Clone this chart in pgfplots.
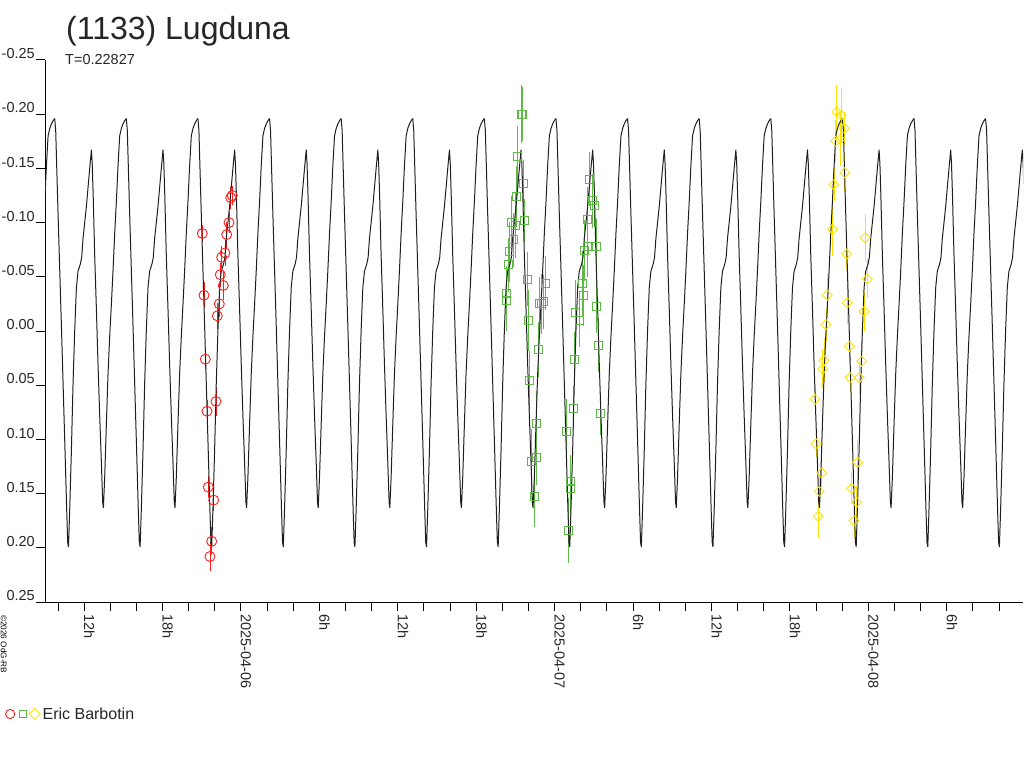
\documentclass[border=0pt]{standalone}
\usepackage{fontspec}
\setmainfont{Liberation Sans}
\usepackage{pgfplots}
\usepackage{pgfplotstable}
\pgfplotsset{compat=1.18}
\definecolor{cred}{RGB}{255,30,30}
\definecolor{cgreen}{RGB}{95,185,70}
\definecolor{cyellow}{RGB}{255,228,0}
\definecolor{ccurve}{RGB}{30,30,30}

% one cycle of the model curve (hours after maximum, magnitude)
\pgfplotstableread{
h m
0.000 -0.196
0.077 -0.185
0.252 -0.110
0.513 -0.005
0.765 0.100
0.918 0.165
0.995 0.195
1.056 0.199
1.148 0.165
1.278 0.110
1.400 0.050
1.530 0.000
1.660 -0.040
1.783 -0.055
1.966 -0.062
2.066 -0.068
2.165 -0.085
2.425 -0.115
2.678 -0.150
2.808 -0.167
2.869 -0.155
2.945 -0.125
3.060 -0.070
3.190 -0.020
3.313 0.030
3.443 0.078
3.573 0.122
3.672 0.158
3.726 0.163
3.825 0.135
3.955 0.085
4.078 0.040
4.208 0.005
4.338 -0.025
4.460 -0.055
4.590 -0.090
4.720 -0.120
4.843 -0.152
4.973 -0.180
5.103 -0.187
5.225 -0.191
5.355 -0.194
5.478 -0.196
}\cyc

% hours since 2025-04-06 0h, magnitude, error
\pgfplotstableread{
x y e
-0.666 -0.125 0.009
-0.788 -0.123 0.010
-2.961 -0.090 0.008
-0.918 -0.100 0.010
-1.094 -0.089 0.012
-1.224 -0.072 0.012
-1.477 -0.068 0.010
-1.584 -0.052 0.011
-1.354 -0.042 0.013
-2.831 -0.033 0.012
-1.660 -0.025 0.012
-1.813 -0.014 0.012
-2.731 0.026 0.009
-1.913 0.065 0.013
-2.601 0.074 0.010
-2.502 0.144 0.010
-2.089 0.156 0.010
-2.242 0.194 0.013
-2.372 0.208 0.013
}\redtab

\pgfplotstableread{
x y e
21.421 -0.200 0.027
21.521 -0.200 0.025
21.116 -0.161 0.028
21.628 -0.136 0.022
21.062 -0.124 0.028
21.705 -0.102 0.020
20.656 -0.100 0.025
20.962 -0.097 0.030
20.863 -0.084 0.025
20.557 -0.073 0.028
20.450 -0.061 0.025
21.880 -0.048 0.025
20.327 -0.035 0.025
20.274 -0.028 0.028
21.980 -0.010 0.028
23.311 -0.044 0.025
23.158 -0.027 0.025
22.975 -0.025 0.028
22.822 -0.025 0.025
22.776 0.017 0.025
22.087 0.046 0.028
22.623 0.085 0.030
22.569 0.117 0.025
22.240 0.120 0.030
22.416 0.153 0.028
26.677 -0.140 0.025
26.907 -0.120 0.025
27.006 -0.116 0.020
26.524 -0.103 0.030
26.471 -0.078 0.028
27.159 -0.078 0.025
26.295 -0.074 0.028
26.088 -0.044 0.030
26.165 -0.033 0.028
25.607 -0.017 0.030
25.913 -0.010 0.025
27.213 -0.023 0.025
27.366 0.013 0.025
25.476 0.026 0.025
27.465 0.076 0.020
25.400 0.071 0.020
24.918 0.093 0.030
25.170 0.139 0.025
25.224 0.145 0.025
25.017 0.184 0.030
}\greentab

\pgfplotstableread{
x y e
45.574 -0.202 0.025
45.926 -0.199 0.025
46.156 -0.187 0.015
45.498 -0.175 0.020
45.827 -0.177 0.025
46.186 -0.146 0.018
45.368 -0.135 0.015
45.268 -0.094 0.025
46.339 -0.071 0.015
47.762 -0.086 0.022
47.915 -0.048 0.018
44.856 -0.033 0.020
46.385 -0.026 0.020
47.663 -0.018 0.018
44.756 -0.006 0.015
46.538 0.014 0.015
44.603 0.027 0.020
47.487 0.028 0.020
44.504 0.035 0.018
46.592 0.043 0.012
47.303 0.043 0.015
43.914 0.063 0.012
43.990 0.104 0.012
47.181 0.121 0.020
44.427 0.131 0.015
44.243 0.148 0.015
46.722 0.145 0.015
47.104 0.158 0.015
44.167 0.171 0.020
46.898 0.175 0.015
}\yellowtab

\begin{document}
\begin{tikzpicture}
\path[use as bounding box] (0,0) rectangle (1024pt,768pt);
\begin{axis}[
  at={(45pt,166pt)}, anchor=south west,
  scale only axis, width=978pt, height=542pt,
  xmin=-14.995, xmax=59.83, ymin=-0.25, ymax=0.25,
  y dir=reverse,
  axis x line*=bottom, axis y line*=left,
  axis line style={line width=1pt, color=black},
  x axis line style={shorten <=-9pt},
  ytick={-0.25,-0.20,-0.15,-0.10,-0.05,0,0.05,0.10,0.15,0.20,0.25},
  yticklabels={-0.25,-0.20,-0.15,-0.10,-0.05,0.00,0.05,0.10,0.15,0.20,0.25},
  xtick={-12,-6,0,6,12,18,24,30,36,42,48,54},
  xticklabels={12h,18h,2025-04-06,6h,12h,18h,2025-04-07,6h,12h,18h,2025-04-08,6h},
  minor xtick={-14,-10,-8,-4,-2,2,4,8,10,14,16,20,22,26,28,32,34,38,40,44,46,50,52,56,58},
  tick align=outside, major tick length=9pt, minor tick length=9pt,
  tick style={color=black, line width=1pt},
  yticklabel style={anchor=south east, inner sep=1pt, font=\fontsize{14.5}{17}\selectfont, color=black!85},
  xticklabel style={rotate=-90, anchor=base west, inner sep=3pt, font=\fontsize{14.5}{17}\selectfont, color=black!85},
  legend style={at={(axis description cs:-0.041,-0.2066)}, anchor=west, draw=none, fill=none,
    inner sep=0pt, font=\fontsize{16}{19}\selectfont, text=black!85},
  clip=true,
]
\addlegendimage{legend image code/.code={
  \draw[cred, line width=0.9pt] (0pt,0pt) circle (4.6pt);
  \draw[cgreen, line width=0.9pt] (9pt,-3.5pt) rectangle (16pt,3.5pt);
  \draw[cyellow, line width=0.9pt] (19pt,0pt) -- (24.5pt,5.5pt) -- (30pt,0pt) -- (24.5pt,-5.5pt) -- cycle;
}}
\addlegendentry{Eric Barbotin}

\addplot[forget plot, only marks, mark=o, mark size=5pt, color=cred, mark options={line width=0.9pt},
  error bars/.cd, y dir=both, y explicit, error mark=none, error bar style={cred, line width=0.9pt}]
  table[x=x, y=y, y error=e]{\redtab};
\addplot[forget plot, only marks, mark=square, mark size=4pt, color=cgreen, mark options={line width=0.9pt},
  error bars/.cd, y dir=both, y explicit, error mark=none, error bar style={cgreen, line width=0.9pt}]
  table[x=x, y=y, y error=e]{\greentab};
\addplot[forget plot, only marks, mark=square, mark size=3.5pt, color=cyellow, mark options={line width=0.9pt, rotate=45},
  error bars/.cd, y dir=both, y explicit, error mark=none, error bar style={cyellow, line width=0.9pt}]
  table[x=x, y=y, y error=e]{\yellowtab};

\pgfplotsinvokeforeach{-1,...,13}{
  \addplot[forget plot, color=ccurve, line width=1pt, no marks, line join=round]
    table[x expr=\thisrow{h}+(#1)*5.47848-14.253, y=m]{\cyc};
}
\end{axis}
\node[anchor=base west, inner sep=0pt, font=\fontsize{32}{38}\selectfont, color=black!85] at (66pt,728pt) {(1133) Lugduna};
\node[anchor=base west, inner sep=0pt, font=\fontsize{14.5}{17}\selectfont, color=black!85] at (65pt,703pt) {T=0.22827};
\node[rotate=-90, anchor=south west, inner sep=0pt, font=\fontsize{8.2}{10}\selectfont] at (0.5pt,153pt) {©2026 OdG-RB};
\end{tikzpicture}
\end{document}
